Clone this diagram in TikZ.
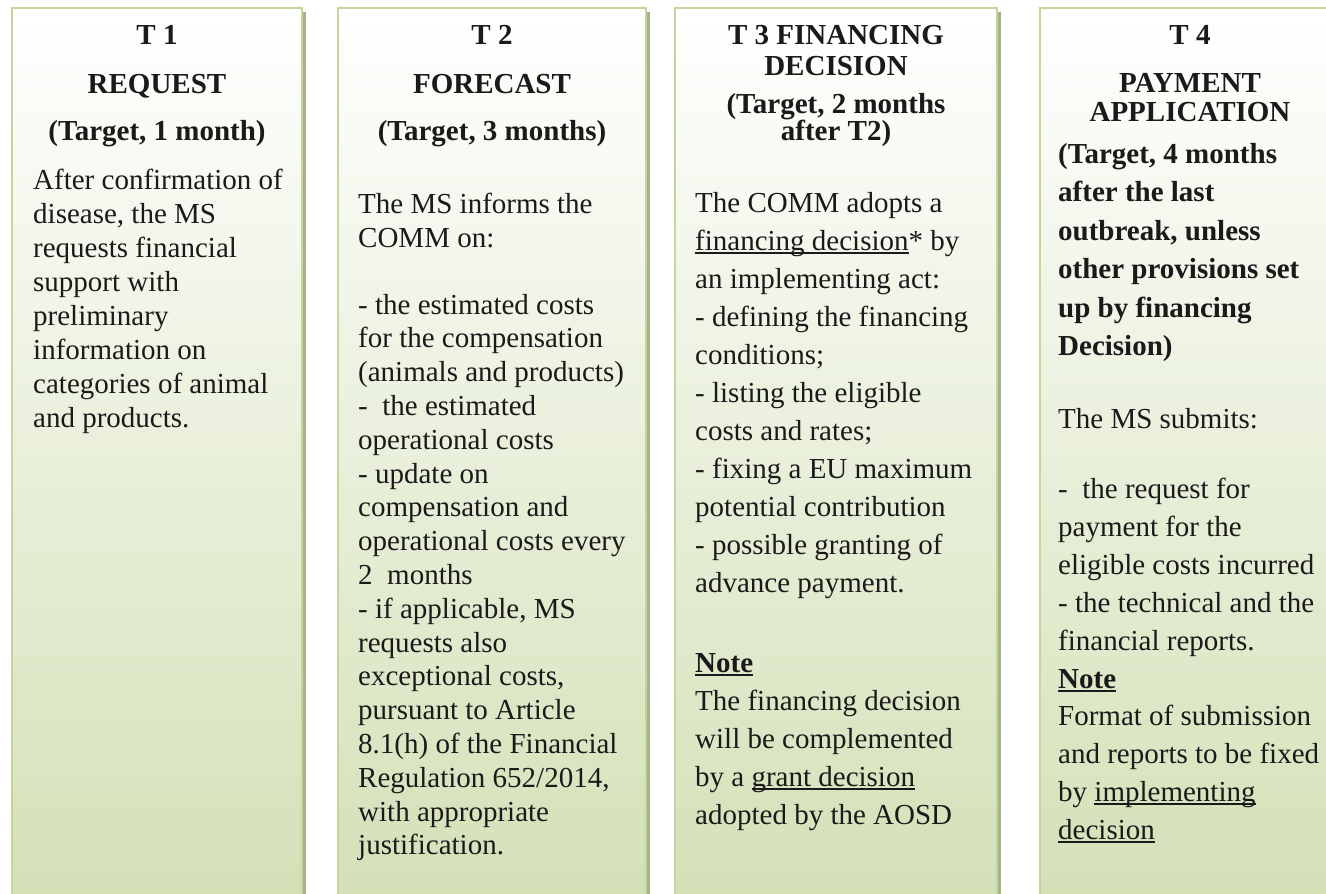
\documentclass[tikz,border=0pt]{standalone}
\usepackage{fontspec}
\setmainfont{Liberation Serif}
\newsavebox{\ulbox}
\newcommand{\ulx}[1]{\sbox{\ulbox}{#1}\rlap{\rule[-3.5pt]{\wd\ulbox}{1.6pt}}\usebox{\ulbox}}
\definecolor{bordc}{HTML}{C3D69B}
\definecolor{botc}{HTML}{D3E0B6}
\definecolor{shadc}{HTML}{A4B28A}
\definecolor{txtc}{HTML}{1A1A1A}
\begin{document}
\begin{tikzpicture}[x=1pt,y=-1pt,
  panel/.style={draw=bordc, line width=2pt, top color=white, bottom color=botc, anchor=north west, minimum height=900pt, inner sep=0pt, outer sep=0pt},
  hd/.style={anchor=base, inner sep=0pt, font=\fontsize{29}{33}\selectfont\bfseries, text=txtc},
  hdl/.style={anchor=base west, inner sep=0pt, font=\fontsize{29}{33}\selectfont\bfseries, text=txtc},
  bd/.style={anchor=base west, inner sep=0pt, font=\fontsize{29}{33}\selectfont, text=txtc},
]
\useasboundingbox (0,0) rectangle (1326,894);
\begin{scope}
\clip (0,0) rectangle (1326,894);
% shadows
\fill[shadc] (301,12) rectangle (305.5,920);
\fill[shadc] (645,12) rectangle (649.5,920);
\fill[shadc] (996,12) rectangle (1000.5,920);
% panels
\node[panel, minimum width=290pt] (p1) at (12,8) {};
\node[panel, minimum width=308pt] (p2) at (338,8) {};
\node[panel, minimum width=322pt] (p3) at (675,8) {};
\node[panel, minimum width=300pt] (p4) at (1040,8) {};
\end{scope}
% column 1
\node[hd] (h1a) at (157,45) {T 1};
\node[hd] (h1b) at (157,93) {REQUEST};
\node[hd] (h1c) at (157,140) {(Target, 1 month)};
\foreach \s [count=\i from 0] in {After confirmation of, {disease, the MS}, requests financial, support with, preliminary, information on, categories of animal, and products.}
  \node[bd] (a\i) at (33,{189+34*\i}) {\s};
% column 2
\node[hd] (h2a) at (492,45) {T 2};
\node[hd] (h2b) at (492,93) {FORECAST};
\node[hd] (h2c) at (492,140) {(Target, 3 months)};
\foreach \s [count=\i from 0] in {The MS informs the, COMM on:}
  \node[bd] (b\i) at (358,{213+34*\i}) {\s};
\foreach \s [count=\i from 0] in {- the estimated costs, for the compensation, (animals and products), -\ \ the estimated, operational costs, - update on, compensation and, operational costs every, 2\ \ months, {- if applicable, MS}, requests also, {exceptional costs,}, pursuant to Article, 8.1(h) of the Financial, {Regulation 652/2014,}, with appropriate, justification.}
  \node[bd] (bb\i) at (358,{314+33.8*\i}) {\s};
% column 3
\node[hd] (h3a) at (836,45) {T 3 FINANCING};
\node[hd] (h3b) at (836,75) {DECISION};
\node[hd] (h3c) at (836,113) {(Target, 2 months};
\node[hd] (h3d) at (836,140) {after T2)};
\foreach \s [count=\i from 0] in {The COMM adopts a, \ulx{financing decision}* by, an implementing act:, - defining the financing, conditions;, - listing the eligible, costs and rates;, - fixing a EU maximum, potential contribution, - possible granting of, advance payment.}
  \node[bd] (c\i) at (695,{212+38*\i}) {\s};
\node[hdl] (c3note) at (695,672) {\ulx{Note}};
\foreach \s [count=\i from 0] in {The financing decision, will be complemented, by a \ulx{grant decision}, adopted by the AOSD}
  \node[bd] (cc\i) at (695,{710+38*\i}) {\s};
% column 4
\node[hd] (h4a) at (1190,45) {T 4};
\node[hd] (h4b) at (1190,92) {PAYMENT};
\node[hd] (h4c) at (1190,121) {APPLICATION};
\foreach \s [count=\i from 0] in {{(Target, 4 months}, after the last, {outbreak, unless}, other provisions set, up by financing, Decision)}
  \node[hdl] (d\i) at (1058,{163+38.5*\i}) {\s};
\node[bd] (dms) at (1058,428) {The MS submits:};
\foreach \s [count=\i from 0] in {-\ \ the request for, payment for the, eligible costs incurred, - the technical and the, financial reports.}
  \node[bd] (dd\i) at (1058,{498+38*\i}) {\s};
\node[hdl] (d4note) at (1058,688) {\ulx{Note}};
\foreach \s [count=\i from 0] in {Format of submission, and reports to be fixed, by \ulx{implementing}, \ulx{decision}}
  \node[bd] (ddd\i) at (1058,{725+38*\i}) {\s};
\end{tikzpicture}
\end{document}
